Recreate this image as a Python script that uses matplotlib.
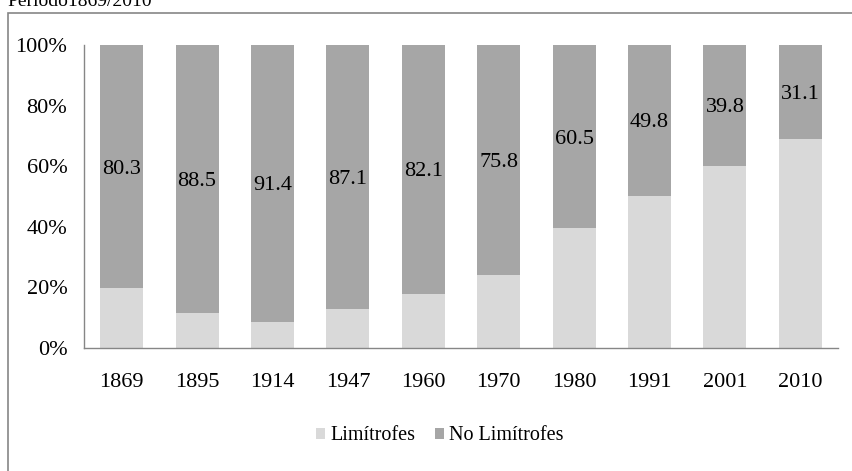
import matplotlib
matplotlib.use("Agg")
import matplotlib.pyplot as plt
from matplotlib.patches import Rectangle
import numpy as np

plt.rcParams['font.family'] = ['Liberation Serif', 'DejaVu Serif']

years = ["1869", "1895", "1914", "1947", "1960", "1970", "1980", "1991", "2001", "2010"]
no_limitrofes = [80.3, 88.5, 91.4, 87.1, 82.1, 75.8, 60.5, 49.8, 39.8, 31.1]
limitrofes = [19.7, 11.5, 8.6, 12.9, 17.9, 24.2, 39.5, 50.2, 60.2, 68.9]
yticks = [0, 20, 40, 60, 80, 100]

fig = plt.figure(figsize=(8.53, 4.71), dpi=100)
W, H = 853, 471
ax = fig.add_axes([84 / W, 1 - 348 / H, (838 - 84) / W, (348 - 45) / H])

x = np.arange(len(years))
c_lim = "#d9d9d9"
c_no = "#a6a6a6"
tot = np.array(limitrofes) + np.array(no_limitrofes)
lim_frac = np.array(limitrofes) / tot * 100
no_frac = np.array(no_limitrofes) / tot * 100

ax.bar(x, lim_frac, width=0.57, color=c_lim, label="Limítrofes")
ax.bar(x, no_frac, width=0.57, bottom=lim_frac, color=c_no, label="No Limítrofes")
for xi, b, h, v in zip(x, lim_frac, no_frac, no_limitrofes):
    ax.text(xi, b + h / 2, f"{v:.1f}", ha="center", va="center_baseline",
            fontsize=16, color="black")

ax.set_xlim(-0.5, len(years) - 0.5)
ax.set_ylim(0, 100)
ax.set_yticks(yticks)
ax.set_yticklabels([f"{t}%" for t in yticks], fontsize=16)
ax.set_xticks(x)
ax.set_xticklabels(years, fontsize=16)
ax.tick_params(axis="both", length=0)
ax.tick_params(axis="y", pad=12)
ax.tick_params(axis="x", pad=18)
for s in ["top", "right"]:
    ax.spines[s].set_visible(False)
for s in ["left", "bottom"]:
    ax.spines[s].set_color("#868686")
    ax.spines[s].set_linewidth(1.0)

leg = fig.legend(loc="center", bbox_to_anchor=(440 / W, 1 - 436 / H), ncol=2, frameon=False,
                 fontsize=14.5, handlelength=0.45, handleheight=0.45, handletextpad=0.25,
                 columnspacing=1.0, borderpad=0)

# outer frame (extends beyond right/bottom edge)
fig.patches.append(Rectangle((8 / W, -0.1), 1.2, 1 - 13 / H + 0.1, transform=fig.transFigure,
                             fill=False, edgecolor="#868686", linewidth=1.2))

fig.text(7 / W, 1 - 6 / H, "Período1869/2010", ha="left", va="baseline", fontsize=14)

fig.savefig("out.png", dpi=100)
